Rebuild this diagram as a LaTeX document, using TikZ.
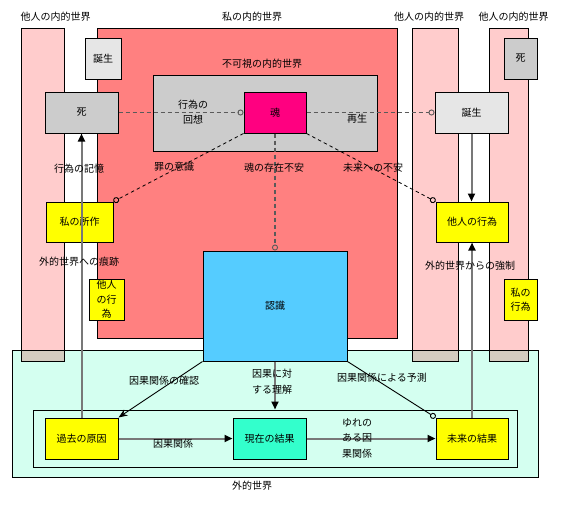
\documentclass[tikz,border=0pt]{standalone}
\usepackage{fontspec}
\setmainfont{Noto Sans CJK JP}
\usetikzlibrary{arrows.meta}
\definecolor{myworld}{RGB}{255,128,128}
\definecolor{otherworld}{RGB}{255,204,204}
\definecolor{hiddencol}{RGB}{204,204,204}
\definecolor{birthcol}{RGB}{230,230,230}
\definecolor{soulcol}{RGB}{255,0,128}
\definecolor{actcol}{RGB}{255,255,0}
\definecolor{cogcol}{RGB}{85,204,255}
\definecolor{presentcol}{RGB}{51,255,204}
\definecolor{outercol}{RGB}{212,255,240}
\definecolor{linegray}{RGB}{120,120,120}
\definecolor{dashgray}{RGB}{90,90,90}
\tikzset{
  every node/.append style={align=center, font=\fontsize{10}{14.5}\selectfont},
  world/.style={draw, line width=1pt, inner sep=0pt},
  box/.style={draw, line width=1pt, inner sep=0pt, minimum width=73pt, minimum height=41pt},
  lbl/.style={inner sep=1pt},
  flow/.style={linegray, line width=2pt, -{Triangle[color=black, length=8pt, width=7pt]}},
  ring/.style={-{Circle[open, length=6pt, line width=0.9pt]}},
  soulline/.style={dashgray, line width=1.8pt, dash pattern=on 4pt off 3pt, ring},
  worryline/.style={black, line width=0.8pt, dash pattern=on 3.5pt off 3pt, ring},
  thinline/.style={black, line width=0.9pt}
}

\begin{document}
\begin{tikzpicture}[x=1pt,y=-1pt]
\useasboundingbox (0,0) rectangle (565,504);

% ── Inner worlds of the others ───────────────────────────────────────────────
\foreach \n/\xc/\w/\lx in {colL/42.5/43/55.5, colM/435/46/429, colR/508.5/39/513.5}
{
  \node[world, fill=otherworld, minimum width=\w pt, minimum height=333pt]
       (\n) at (\xc,194.5) {};
  \node[lbl] (\n-lbl) at (\lx,17) {他人の内的世界};
}

% ── My inner world ───────────────────────────────────────────────────────────
\node[world, fill=myworld, minimum width=300pt, minimum height=310pt]
     (mine) at (247,183) {};
\node[lbl] (mine-lbl) at (252,17) {私の内的世界};
\node[world, fill=hiddencol, minimum width=224pt, minimum height=76pt]
     (hidden) at (265,113) {};
\node[lbl] (hidden-lbl) at (262,64) {不可視の内的世界};

% ── Outer world (laid over the columns) ──────────────────────────────────────
\begin{scope}[blend mode=multiply]
  \node[world, fill=outercol, minimum width=526pt, minimum height=127pt]
       (outer) at (275,413.5) {};
\end{scope}
\node[lbl] (outer-lbl) at (252,486) {外的世界};
\node[world, minimum width=484pt, minimum height=57pt] (causes) at (275,438.5) {};

% ── Boxes ────────────────────────────────────────────────────────────────────
\node[box, fill=birthcol, minimum width=36pt] (birthL) at (103,58.5) {誕生};
\node[box, fill=hiddencol] (deathL) at (81.5,112.5) {死};
\node[box, fill=soulcol, minimum width=62pt] (soul) at (275,112.5) {魂};
\node[box, fill=birthcol] (birthR) at (471.5,112.5) {誕生};
\node[box, fill=hiddencol, minimum width=33pt] (deathR) at (520.5,58.5) {死};

\node[box, fill=actcol, minimum width=67pt, minimum height=40pt]
     (myAct) at (79.5,222) {私の所作};
\node[box, fill=actcol, minimum width=72pt, minimum height=40pt]
     (otherAct) at (472,222) {他人の行為};
\node[box, fill=actcol, minimum width=35pt] (otherActS) at (106.5,299.5) {他人\\の行\\為};
\node[box, fill=actcol, minimum width=33pt] (myActS) at (520.5,299.5) {私の\\行為};

\node[box, fill=cogcol, minimum width=144pt, minimum height=110pt]
     (cog) at (275,306) {認識};

\node[box, fill=actcol] (past) at (81.5,438.5) {過去の原因};
\node[box, fill=presentcol] (present) at (269.5,438.5) {現在の結果};
\node[box, fill=actcol, minimum width=72pt] (future) at (472,438.5) {未来の結果};

% ── Soul lines ───────────────────────────────────────────────────────────────
\draw[soulline] (deathL.east) -- (soul.west);
\draw[soulline] (soul.east) -- (birthR.west);
\draw[soulline] (soul.south) -- (cog.north);
\draw[worryline] (soul.south west) -- (myAct.north east);
\draw[worryline] (soul.south east) -- (otherAct.north west);

\node[lbl, anchor=west] (recall) at (177,112) {行為の\\回想};
\node[lbl] (rebirth) at (357,119) {再生};
\node[lbl] (guilt) at (174,167) {罪の意識};
\node[lbl] (anxiety) at (274,168) {魂の存在不安};
\node[lbl] (future-lbl) at (373,168) {未来への不安};

% ── Memory and compulsion ────────────────────────────────────────────────────
\draw[flow, {Triangle[color=black, length=8pt, width=7pt]}-]
     (deathL.south) -- (past.north);
\draw[flow] (birthR.south) -- (birthR.south |- otherAct.north);
\draw[flow] (future.north) -- (otherAct.south);

\node[lbl] (memory) at (79,169) {行為の記憶};
\node[lbl] (trace) at (79,262) {外的世界への痕跡};
\node[lbl] (force) at (470,266) {外的世界からの強制};

% ── Causality ────────────────────────────────────────────────────────────────
\draw[flow] (past.east) -- (present.west);
\draw[flow] (present.east) -- (future.west);
\draw[flow] (cog.south) -- (cog.south |- causes.north);
\draw[thinline, -{Stealth[length=9pt, width=7pt]}] (cog.south west) -- (past.north east);
\draw[thinline, ring] (cog.south east) -- (future.north west);

\node[lbl] (confirm) at (164,381) {因果関係の確認};
\node[lbl, anchor=west, font=\fontsize{10}{16}\selectfont] (grasp) at (251,382) {因果に対\\する理解};
\node[lbl] (predict) at (382,378) {因果関係による予測};
\node[lbl] (causal) at (173,444) {因果関係};
\node[lbl, anchor=west, font=\fontsize{10}{15.5}\selectfont] (shaky) at (341,438) {ゆれの\\ある因\\果関係};

\end{tikzpicture}
\end{document}
